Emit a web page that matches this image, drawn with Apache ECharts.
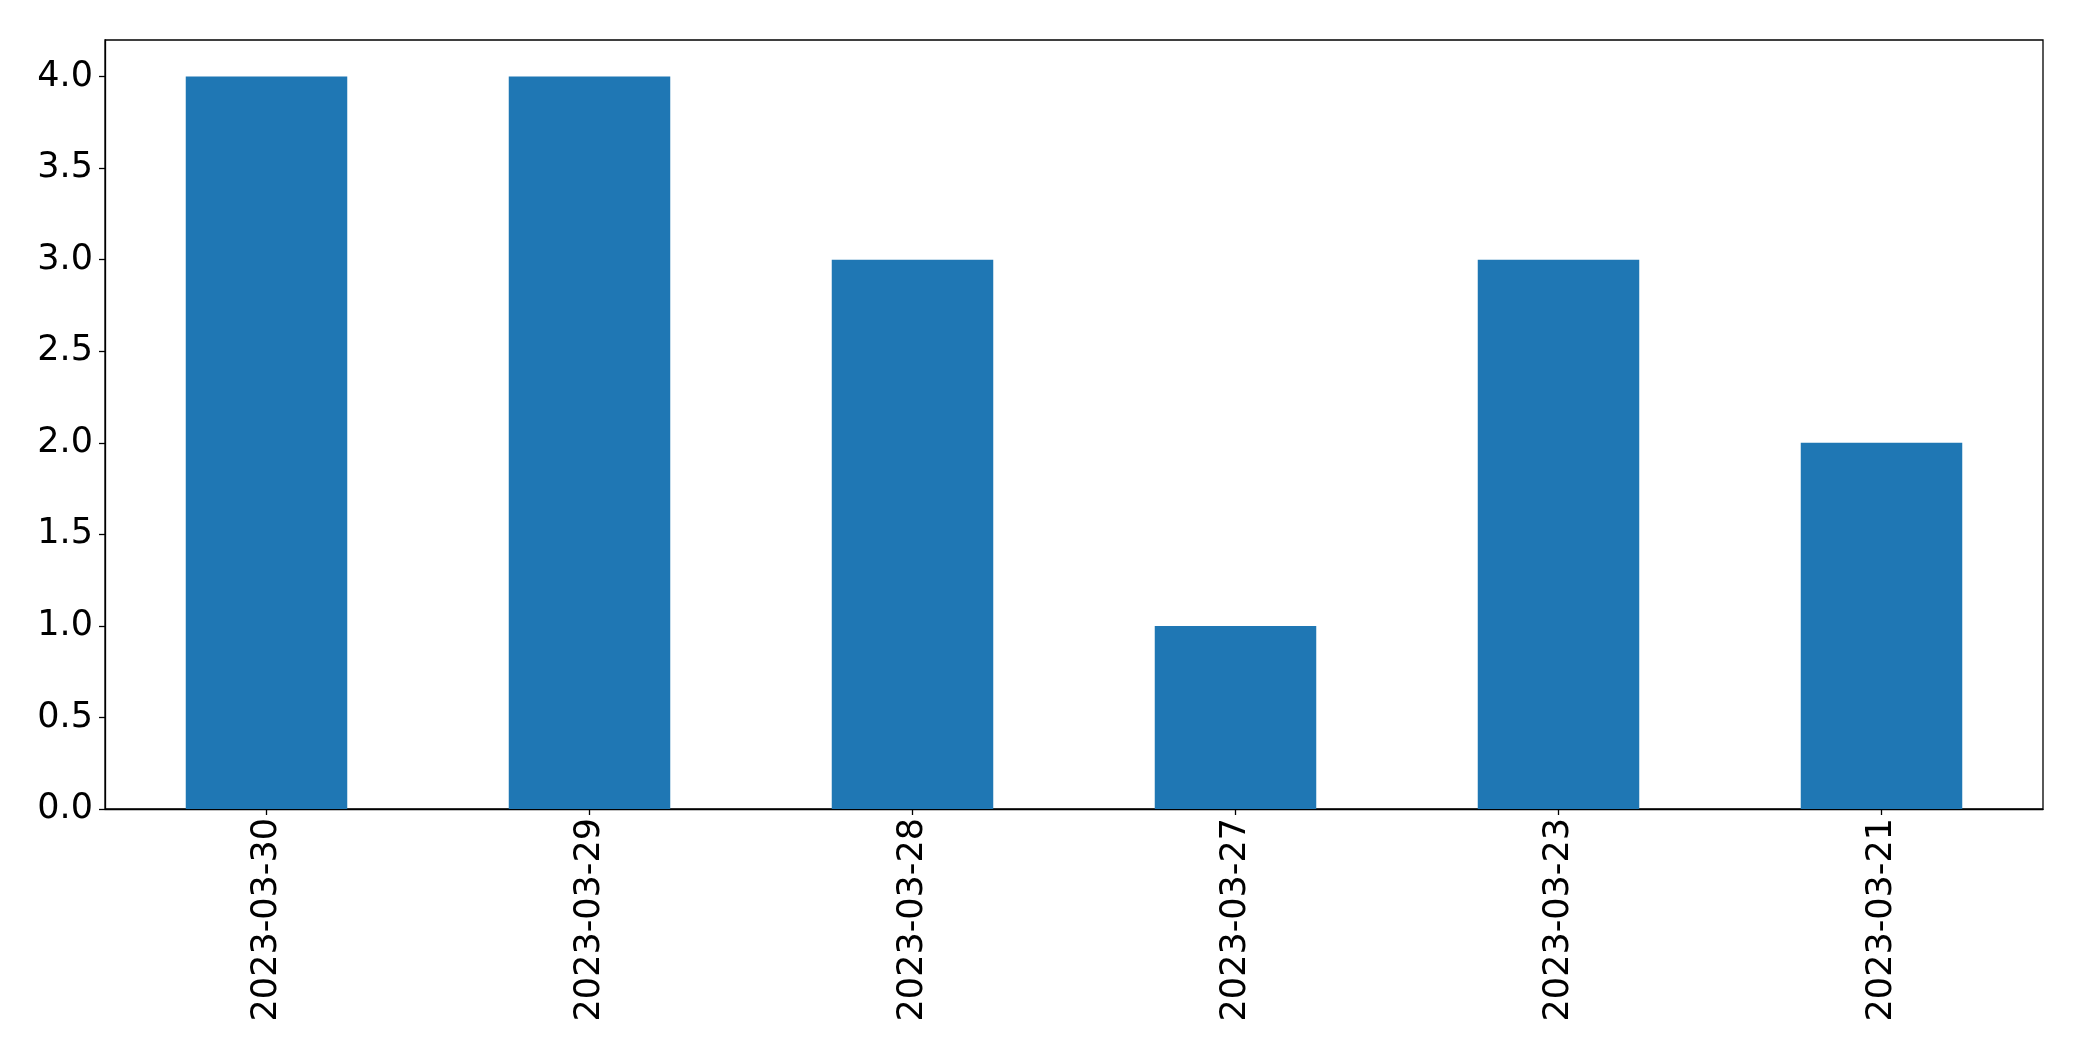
<!DOCTYPE html>
<html>
<head>
<meta charset="utf-8">
<script src="https://cdn.jsdelivr.net/npm/echarts@6/dist/echarts.min.js"></script>
<style>
html,body{margin:0;padding:0;background:#fff;}
#chart{width:2082px;height:1061px;}
</style>
</head>
<body>
<div id="chart"></div>
<script>
const categories = ['2023-03-30','2023-03-29','2023-03-28','2023-03-27','2023-03-23','2023-03-21'];
const values = [4, 4, 3, 1, 3, 2];
const yTicks = [0, 0.5, 1, 1.5, 2, 2.5, 3, 3.5, 4];

const chart = echarts.init(document.getElementById('chart'), null, {renderer:'canvas'});
const font = 'DejaVu Sans';
chart.setOption({
  animation: false,
  backgroundColor: '#fff',
  grid: {
    left: 105, right: 39, top: 40, bottom: 252,
    show: true, borderColor: '#000', borderWidth: 1.3, backgroundColor: 'transparent'
  },
  xAxis: {
    type: 'category',
    data: categories,
    axisLine: {show: true, lineStyle: {color: '#000', width: 1.3}},
    axisTick: {show: true, alignWithLabel: true, length: 6, lineStyle: {color: '#000', width: 1.3}},
    axisLabel: {rotate: 90, margin: 9, color: '#000', fontSize: 35, fontFamily: font},
    splitLine: {show: false}
  },
  yAxis: {
    type: 'value',
    min: 0, max: 4.2, interval: 0.5,
    axisLine: {show: true, lineStyle: {color: '#000', width: 1.3}},
    axisTick: {show: true, length: 6, customValues: yTicks, lineStyle: {color: '#000', width: 1.3}},
    axisLabel: {margin: 12, color: '#000', fontSize: 35, fontFamily: font, customValues: yTicks,
      formatter: v => v.toFixed(1)},
    splitLine: {show: false}
  },
  series: [{
    type: 'bar',
    data: values,
    barCategoryGap: '50%',
    itemStyle: {color: '#1f77b4'}
  }]
});
</script>
</body>
</html>
